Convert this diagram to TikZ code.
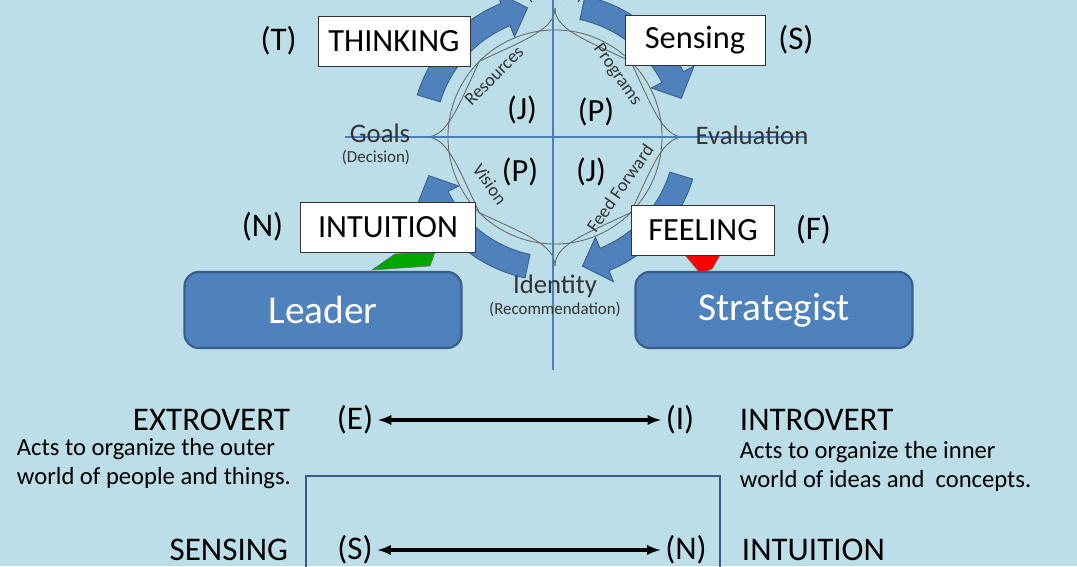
\documentclass[tikz,border=0pt]{standalone}
\usepackage{fontspec}
\setmainfont{Carlito}
\usetikzlibrary{positioning}
\definecolor{bgblue}{HTML}{BBDEE8}
\definecolor{arrblue}{HTML}{4F81BD}
\definecolor{edgeblue}{HTML}{385D8A}
\definecolor{lineblue}{HTML}{4A7EBB}
\tikzset{
  wordbox/.style={draw=black!80,fill=white,minimum width=#1,minimum height=50*0.025cm,inner sep=0pt,font=\fontsize{23}{23}\selectfont},
  rolebox/.style={draw=edgeblue,line width=1.5pt,fill=arrblue,rounded corners=10pt,minimum width=277*0.025cm,minimum height=76*0.025cm,text=white,font=\fontsize{28}{28}\selectfont},
  letter/.style={font=\fontsize{23}{23}\selectfont},
  stage/.style={font=\fontsize{19}{19}\selectfont,text=black!80},
  sub/.style={font=\fontsize{12}{12}\selectfont,text=black!80},
  path lbl/.style={font=\fontsize{13}{13}\selectfont,text=black!80},
  head/.style={font=\fontsize{23.5}{23.5}\selectfont},
  note/.style={font=\fontsize{17.5}{21}\selectfont,align=left},
  pairarrow/.style={<->,>=latex,line width=2.2pt}
}
% block arrow along the circle, from angle #1 to #2 (clockwise)
\newcommand{\blockarc}[2]{%
  \fill[arrblue,draw=edgeblue,line width=0.6pt]
    (#1:3.6cm) arc[start angle=#1,end angle=#2+10,radius=3.6cm]
    -- (#2+10:3.9cm) -- (#2:3.3cm) -- (#2+10:2.7cm) -- (#2+10:3.0cm)
    arc[start angle=#2+10,end angle=#1,radius=3.0cm] -- cycle;}
\begin{document}
\begin{tikzpicture}[x=0.025cm,y=0.025cm]
  \fill[bgblue] (0,0) rectangle (1077,566);
  \useasboundingbox (0,0) rectangle (1077,566);

  % circle with the four arrows
  \begin{scope}[shift={(555,429)}]
    \blockarc{163}{102}
    \blockarc{78}{17}
    \blockarc{-17}{-78}
    \blockarc{-102}{-163}
    \draw[gray!80!black,line width=0.6pt] (0,0) circle[radius=2.675cm];
    \foreach \r in {0,90,180,270} {
      \draw[gray!80!black,line width=0.6pt,rotate=\r]
        (0,129) .. controls (0,108) and (-28,98) .. (-75.7,75.7);
      \draw[gray!80!black,line width=0.6pt,rotate=\r]
        (0,129) .. controls (0,108) and (28,98) .. (75.7,75.7);
    }
  \end{scope}

  % axes
  \draw[lineblue,line width=1.5pt] (553,566) -- (553,196);
  \draw[lineblue,line width=1.5pt] (345,429) -- (805,429);

  % callout tails
  \fill[green!65!black,draw=black!60] (372,296) -- (395,312) -- (435,314) -- (430,300) -- cycle;
  \fill[red,draw=black!60] (685,311) -- (720,311) -- (712,297) -- (700,293) -- cycle;

  % function boxes
  \node[wordbox=152*0.025cm] (think) at (394,525) {THINKING};
  \node[wordbox=140*0.025cm] (sens) at (695,526) {Sensing};
  \node[wordbox=175*0.025cm] (intu) at (388,339) {INTUITION};
  \node[wordbox=143*0.025cm] (feel) at (703,336) {FEELING};
  \node[head,left=16*0.025cm of think] (tT) {(T)};
  \node[head,right=8*0.025cm of sens] (tS) {(S)};
  \node[head,left=12*0.025cm of intu] (tN) {(N)};
  \node[head,right=16*0.025cm of feel] (tF) {(F)};

  \node[rolebox] (leader) at (323,256) {Leader};
  \node[rolebox] (strat) at (774,256) {Strategist};

  % stage labels
  \node[sub] (action) at (555,570) {(Action)};
  \node[stage] (goals) at (380,433) {Goals};
  \node[sub] (decis) at (376,408) {(Decision)};
  \node[stage] (evalu) at (752,431) {Evaluation};
  \node[stage] (ident) at (555,280) {Identity};
  \node[sub] (recom) at (555,256) {(Recommendation)};

  \node[letter] (q1) at (522,456) {(J)};
  \node[letter] (q2) at (596,454) {(P)};
  \node[letter] (q3) at (520,394) {(P)};
  \node[letter] (q4) at (591,394) {(J)};

  \node[path lbl,rotate=45] (res) at (494,490) {Resources};
  \node[path lbl,rotate=-55] (prog) at (617,491) {Programs};
  \node[path lbl,rotate=-55] (vis) at (490,382) {Vision};
  \node[path lbl,rotate=55] (ff) at (620,378) {Feed Forward};

  % preference pairs
  \node[head] (pE) at (355,146) {(E)};
  \node[head] (pI) at (680,146) {(I)};
  \draw[pairarrow] (pE) -- (pI);
  \node[head,anchor=east] (extro) at (295,146) {EXTROVERT};
  \node[head,anchor=west] (intro) at (735,146) {INTROVERT};
  \node[note,anchor=north west] (extnote) at (12,133) {Acts to organize the outer\\world of people and things.};
  \node[note,anchor=north west] (intnote) at (735,130) {Acts to organize the inner\\world of ideas and \ concepts.};

  \draw[edgeblue,line width=1.6pt] (306,-10) rectangle (720,90);
  \node[head] (pS) at (355,16) {(S)};
  \node[head] (pN) at (686,16) {(N)};
  \draw[pairarrow] (pS) -- (pN);
  \node[head,anchor=east] (sensing) at (293,16) {SENSING};
  \node[head,anchor=west] (intuit) at (737,16) {INTUITION};
\end{tikzpicture}
\end{document}
